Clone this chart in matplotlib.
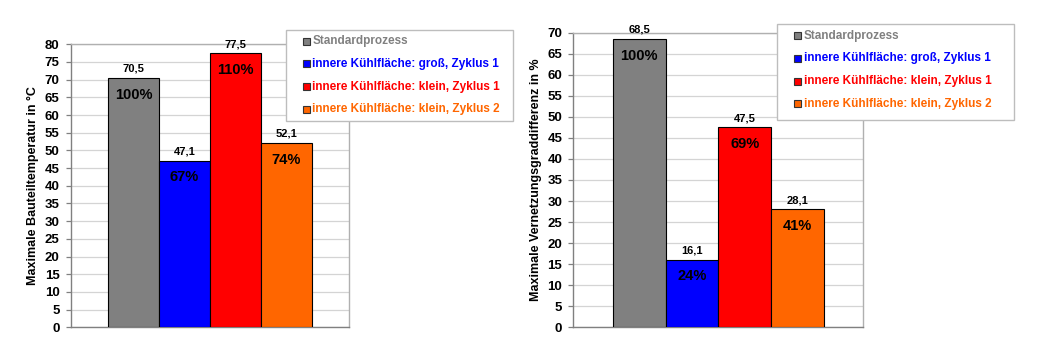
import matplotlib
matplotlib.use("Agg")
import matplotlib.pyplot as plt
from matplotlib.patches import Rectangle

plt.rcParams['font.family'] = ['Liberation Sans', 'DejaVu Sans']

series = ["Standardprozess",
          "innere Kühlfläche: groß, Zyklus 1",
          "innere Kühlfläche: klein, Zyklus 1",
          "innere Kühlfläche: klein, Zyklus 2"]
colors = ["#808080", "#0000FF", "#FF0000", "#FF6600"]
text_colors = ["#808080", "#0000FF", "#FF0000", "#FF6600"]

temp_values = [70.5, 47.1, 77.5, 52.1]
temp_labels = ["70,5", "47,1", "77,5", "52,1"]
temp_pct = ["100%", "67%", "110%", "74%"]

vern_values = [68.5, 16.1, 47.5, 28.1]
vern_labels = ["68,5", "16,1", "47,5", "28,1"]
vern_pct = ["100%", "24%", "69%", "41%"]

W, H = 1040, 360
fig = plt.figure(figsize=(W / 100, H / 100), dpi=100)
fig.patch.set_facecolor("white")


def px_axes(l, t, r, b):
    return fig.add_axes([l / W, 1 - b / H, (r - l) / W, (b - t) / H])


def draw_chart(ax, values, labels, pct, ymax, ylabel, half_units):
    x = list(range(len(values)))
    ax.bar(x, values, width=1.0, color=colors, edgecolor="black", linewidth=0.8, zorder=3)
    ax.set_xlim(1.5 - half_units, 1.5 + half_units)
    ax.set_ylim(0, ymax)
    ax.set_yticks(range(0, ymax + 1, 5))
    ax.set_xticks([])
    ax.yaxis.grid(True, color="#d4d4d4", linewidth=0.9, zorder=0)
    ax.set_axisbelow(True)
    for s in ["top", "right"]:
        ax.spines[s].set_color("#b0b0b0")
        ax.spines[s].set_linewidth(1.0)
    for s in ["left", "bottom"]:
        ax.spines[s].set_color("#808080")
        ax.spines[s].set_linewidth(1.0)
    ax.tick_params(axis="y", length=3.5, width=0.9, color="#808080", pad=4.5, labelsize=9.5)
    for lab in ax.get_yticklabels():
        lab.set_fontweight("bold")
    ax.set_ylabel(ylabel, fontsize=9, fontweight="bold", labelpad=4)
    for xi, v, lb, p in zip(x, values, labels, pct):
        ax.annotate(lb, (xi, v), xytext=(0, 6.5), textcoords="offset points",
                    ha="center", va="center", fontsize=8, fontweight="bold")
        ax.annotate(p, (xi, v), xytext=(0, -12), textcoords="offset points",
                    ha="center", va="center", fontsize=10.5, fontweight="bold", zorder=5)


def draw_legend(l, t, r, b):
    fig.patches.append(Rectangle((l / W, 1 - b / H), (r - l) / W, (b - t) / H,
                                 transform=fig.transFigure, facecolor="white",
                                 edgecolor="#bdbdbd", linewidth=1.0, zorder=10))
    first = t + 11.5
    step = 22.7
    for i, (name, c, tc) in enumerate(zip(series, colors, text_colors)):
        yc = first + i * step
        fig.patches.append(Rectangle(((l + 17) / W, 1 - (yc + 3.5) / H), 7 / W, 7 / H,
                                     transform=fig.transFigure, facecolor=c,
                                     edgecolor="#333333", linewidth=0.8, zorder=11))
        fig.text((l + 26.5) / W, 1 - yc / H, name, color=tc, fontsize=8.5,
                 fontweight="bold", ha="left", va="center", zorder=12)


ax1 = px_axes(70.7, 44.3, 349.0, 327.3)
draw_chart(ax1, temp_values, temp_labels, temp_pct, 80,
           "Maximale Bauteiltemperatur in °C", 2.73)
ax2 = px_axes(573.3, 32.7, 863.3, 327.3)
draw_chart(ax2, vern_values, vern_labels, vern_pct, 70,
           "Maximale Vernetzungsgraddifferenz in %", 2.75)

draw_legend(285.7, 29.7, 512.7, 121.0)
draw_legend(777.3, 24.3, 1014.3, 120.0)

fig.savefig("out.png", dpi=100, facecolor="white")
